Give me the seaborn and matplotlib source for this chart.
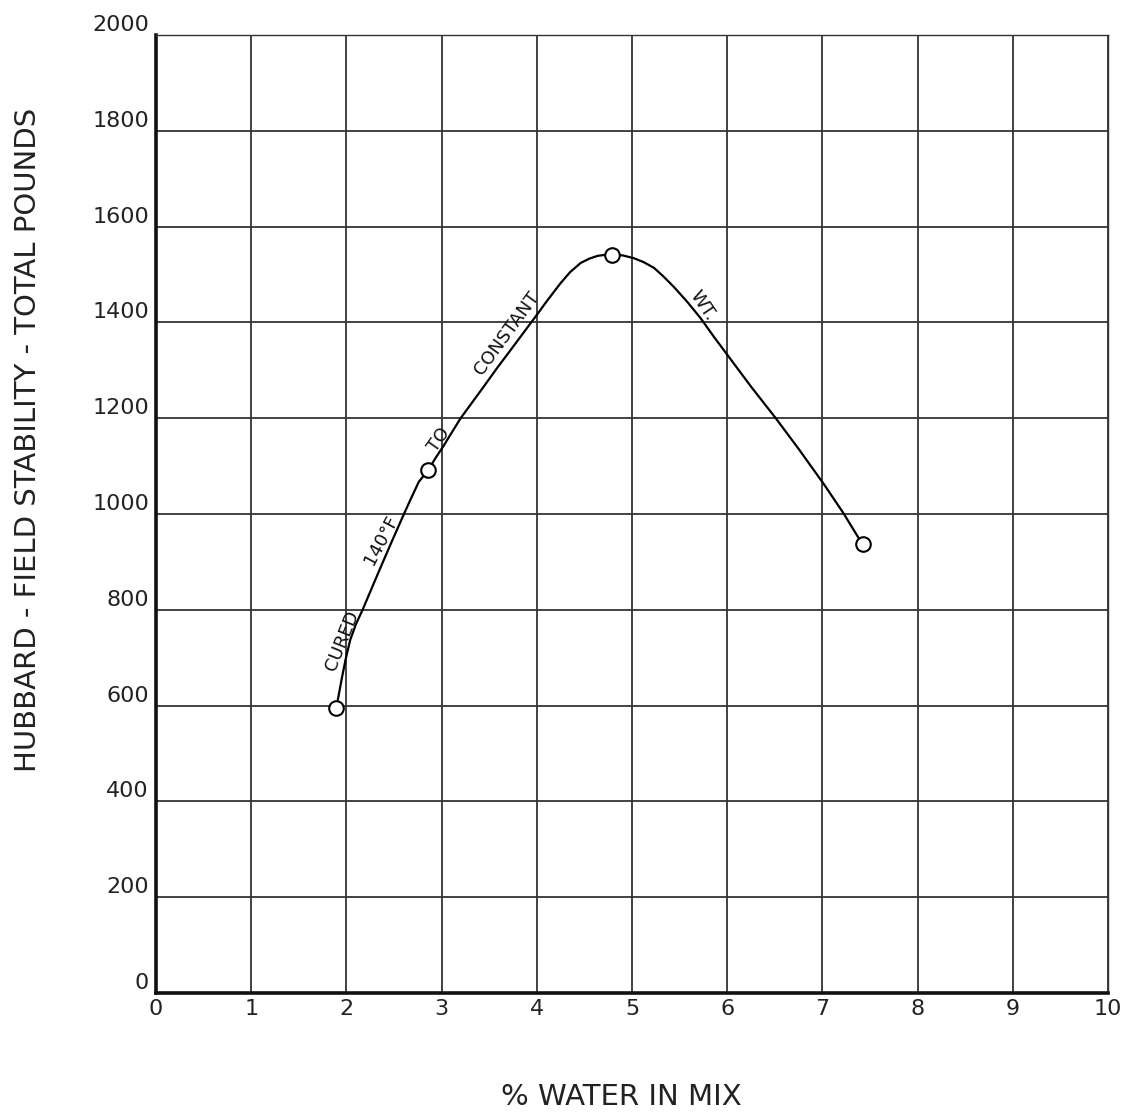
import matplotlib
matplotlib.use("Agg")
import matplotlib.pyplot as plt
import seaborn as sns
import pandas as pd

# Measured points (% water, stability lbs)
water_pts = [1.89, 2.86, 4.79, 7.43]
stab_pts = [595, 1092, 1541, 937]

# Hand-drawn curve
curve_x = [1.91, 1.95, 1.99, 2.04, 2.10, 2.17, 2.36, 2.48, 2.60, 2.68, 2.76, 2.86, 2.94,
           3.02, 3.10, 3.20, 3.45, 3.58, 3.72, 3.87, 4.02, 4.10, 4.25, 4.35, 4.46, 4.55,
           4.64, 4.72, 4.79, 4.90, 5.02, 5.12, 5.23, 5.33, 5.44, 5.58, 5.72, 5.86, 6.01,
           6.25, 6.51, 6.75, 7.02, 7.22, 7.38]
curve_y = [612, 655, 695, 737, 770, 800, 889, 944, 998, 1033, 1067, 1092, 1118,
           1142, 1168, 1200, 1268, 1304, 1341, 1381, 1421, 1443, 1482, 1505, 1524, 1533,
           1539, 1541, 1541, 1540, 1534, 1526, 1514, 1496, 1474, 1443, 1409, 1370, 1330,
           1266, 1200, 1136, 1061, 1002, 950]

x_ticks = [0, 1, 2, 3, 4, 5, 6, 7, 8, 9, 10]
y_ticks = [0, 200, 400, 600, 800, 1000, 1200, 1400, 1600, 1800, 2000]

annotations = [
    ("CURED", 1.96, 736, 68),
    ("140°F", 2.36, 946, 62),
    ("TO", 2.97, 1155, 55),
    ("CONSTANT", 3.69, 1378, 54),
    ("WT.", 5.74, 1434, -56),
]

sns.set_style("white")
plt.rcParams['font.family'] = ['DejaVu Sans']

fig = plt.figure(figsize=(11.27, 11.16), dpi=100)
ax = fig.add_axes([156/1127, 1 - 993/1116, (1108-156)/1127, (993-35)/1116])

curve_df = pd.DataFrame({"x": curve_x, "y": curve_y})
pts_df = pd.DataFrame({"x": water_pts, "y": stab_pts})

sns.lineplot(data=curve_df, x="x", y="y", sort=False, ax=ax, color="black",
             linewidth=1.6, zorder=3)
sns.scatterplot(data=pts_df, x="x", y="y", ax=ax, marker="o", s=110,
                facecolor="white", edgecolor="black", linewidth=1.5, zorder=4)

ax.set_xlim(0, 10)
ax.set_ylim(0, 2000)
ax.set_xticks(x_ticks)
ax.set_yticks(y_ticks)
ax.set_xticklabels([str(v) for v in x_ticks], fontsize=16, color="#222222")
ax.set_yticklabels([str(v) for v in y_ticks], fontsize=16, color="#222222")
for lab in ax.get_yticklabels():
    lab.set_va("bottom")
ax.tick_params(axis="both", length=0)
ax.tick_params(axis="x", pad=4)
ax.tick_params(axis="y", pad=5)
ax.grid(True, color="#333333", linewidth=1.3)
ax.set_axisbelow(True)
ax.set_xlabel("")
ax.set_ylabel("")

for side in ["top", "right"]:
    ax.spines[side].set_linewidth(1.0)
    ax.spines[side].set_color("#333333")
for side in ["left", "bottom"]:
    ax.spines[side].set_linewidth(2.6)
    ax.spines[side].set_color("#111111")

for txt, x, y, rot in annotations:
    ax.text(x, y, txt, rotation=rot, rotation_mode="anchor", ha="center", va="center",
            fontsize=13, color="#111111", zorder=5)

fig.text(28/1127, 1 - 440/1116, "HUBBARD - FIELD STABILITY - TOTAL POUNDS",
         rotation=90, ha="center", va="center", fontsize=21, color="#222222")
fig.text(621/1127, 1 - 1097/1116, "% WATER IN MIX", ha="center", va="center",
         fontsize=21, color="#222222")

fig.savefig("out.png", dpi=100)
